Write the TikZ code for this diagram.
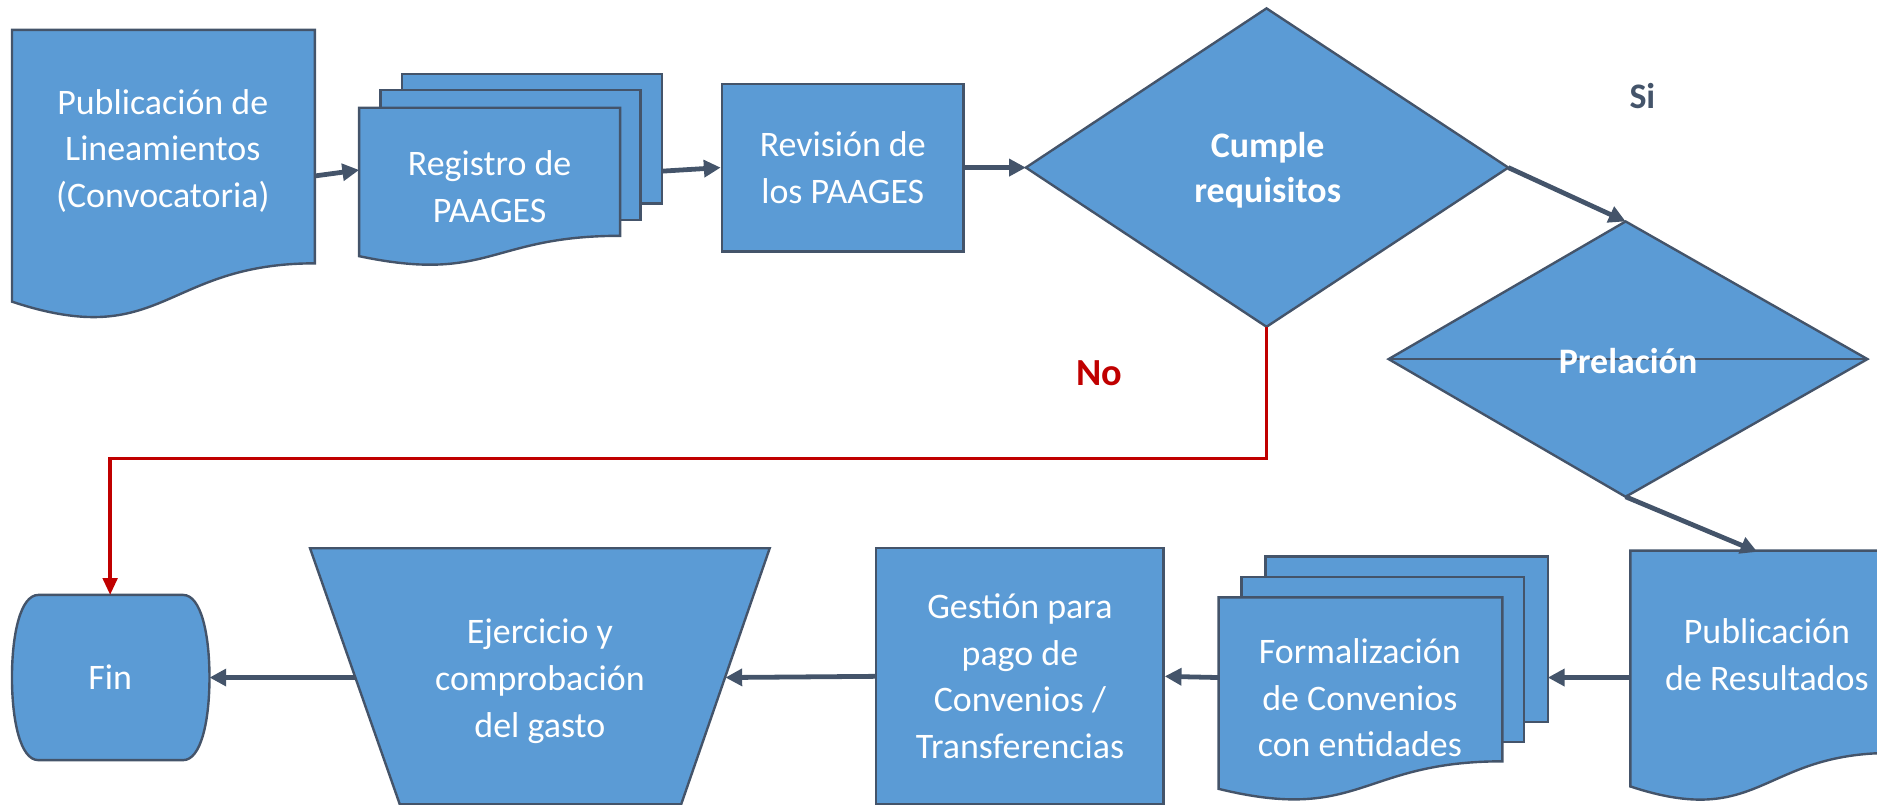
\documentclass[tikz,border=0pt]{standalone}
\usepackage{fontspec}
\setmainfont{Carlito}
\usetikzlibrary{arrows.meta}
\definecolor{boxblue}{HTML}{5B9BD5}
\definecolor{edgec}{HTML}{44546A}
\definecolor{nored}{HTML}{C00000}
\begin{document}
\begin{tikzpicture}[x=0.5pt,y=-0.5pt,
  blk/.style={fill=boxblue,draw=edgec,line width=1pt,line join=miter},
  lbl/.style={text=white,align=center,font=\fontsize{15}{19.5}\selectfont,inner sep=0pt},
  blbl/.style={lbl,font=\fontsize{15}{19}\selectfont\bfseries},
  flow/.style={draw=edgec,line width=2pt,-{Triangle[length=7pt,width=7pt]}},
  noflow/.style={draw=nored,line width=1.5pt,-{Triangle[length=7pt,width=6pt]}}]
\useasboundingbox (0,0) rectangle (1568,672);

% A: Publicacion de Lineamientos (document)
\path[blk] (10,25) -- (263,25) -- (263,220) .. controls (136.5,220) and (136.5,294) .. (10,252) -- cycle;
\node[lbl] (A) at (136,126) {Publicación de\\Lineamientos\\(Convocatoria)};

% B: Registro de PAAGES (multidocument)
\path[blk] (336,62) rectangle (553,170);
\path[blk] (318,75) rectangle (535,184);
\path[blk] (300,90) -- (518,90) -- (518,197) .. controls (409,197) and (409,237) .. (300,214) -- cycle;
\node[lbl] (B) at (409,156) {Registro de\\PAAGES};

% C: Revision
\node[blk,lbl,minimum width=101pt,minimum height=70pt] (C) at (704,140) {Revisión de\\los PAAGES};

% D: Cumple requisitos (decision)
\path[blk] (857,140) -- (1058,7) -- (1260,140) -- (1058,273) -- cycle;
\node[blbl] (D) at (1059,142) {Cumple\\requisitos};

% E: Prelacion (sort)
\path[blk] (1160,300) -- (1358,185) -- (1560,300) -- (1358,415) -- cycle;
\draw[edgec,line width=1pt] (1160,300) -- (1560,300);
\node[blbl] (E) at (1360,302) {Prelación};

% F: Publicacion de Resultados (document)
\path[blk] (1362,460) -- (1580,460) -- (1580,629) .. controls (1471,629) and (1471,693) .. (1362,657) -- cycle;
\node[lbl] (F) at (1476,547) {Publicación\\de Resultados};

% G: Formalizacion (multidocument)
\path[blk] (1057,465) rectangle (1293,603);
\path[blk] (1037,482) rectangle (1273,620);
\path[blk] (1018,499) -- (1255,499) -- (1255,636) .. controls (1136.5,636) and (1136.5,688) .. (1018,659) -- cycle;
\node[lbl] (G) at (1136,583) {Formalización\\de Convenios\\con entidades};

% H: Gestion
\node[blk,lbl,minimum width=120pt,minimum height=107pt] (H) at (852,565) {Gestión para\\pago de\\Convenios /\\Transferencias};

% I: Ejercicio (manual operation)
\path[blk] (259,458) -- (643,458) -- (569,672) -- (334,672) -- cycle;
\node[lbl] (I) at (451,569) {Ejercicio y\\comprobación\\del gasto};

% J: Fin
\path[blk] (32,497) -- (153,497) .. controls (168,497) and (175,530) .. (175,566)
  .. controls (175,602) and (168,635) .. (153,635) -- (32,635)
  .. controls (17,635) and (10,602) .. (10,566) .. controls (10,530) and (17,497) .. (32,497) -- cycle;
\node[lbl] (J) at (92,566) {Fin};

% connection points
\coordinate (Aout) at (263,147);
\coordinate (Bin) at (300,142);
\coordinate (Bout) at (553,143);
\coordinate (Dl) at (857,140);
\coordinate (Dr) at (1260,140);
\coordinate (Db) at (1058,273);
\coordinate (Et) at (1358,185);
\coordinate (Eb) at (1358,415);
\coordinate (Ft) at (1468,461);
\coordinate (Fl) at (1362,566);
\coordinate (Gr) at (1293,566);
\coordinate (Gl) at (1018,566);
\coordinate (Ir) at (606,566);
\coordinate (Il) at (297,566);
\coordinate (Jr) at (175,566);
\coordinate (Jt) at (92,497);
\coordinate (k1) at (1058,383);
\coordinate (k2) at (92,383);

% connectors
\draw[flow] (Aout) -- (Bin);
\draw[flow] (Bout) -- (C.west);
\draw[flow] (C.east) -- (Dl);
\draw[flow] (Dr) -- (Et);
\draw[flow] (Eb) -- (Ft);
\draw[flow] (Fl) -- (Gr);
\draw[flow] (Gl) -- (H.east);
\draw[flow] (H.west) -- (Ir);
\draw[flow] (Il) -- (Jr);
\draw[noflow] (Db) -- (k1) -- (k2) -- (Jt);

% labels
\node[blbl,text=edgec] (si) at (1372,80) {Si};
\node[blbl,text=nored,font=\fontsize{16}{19}\selectfont\bfseries] (no) at (918,312) {No};
\end{tikzpicture}
\end{document}
